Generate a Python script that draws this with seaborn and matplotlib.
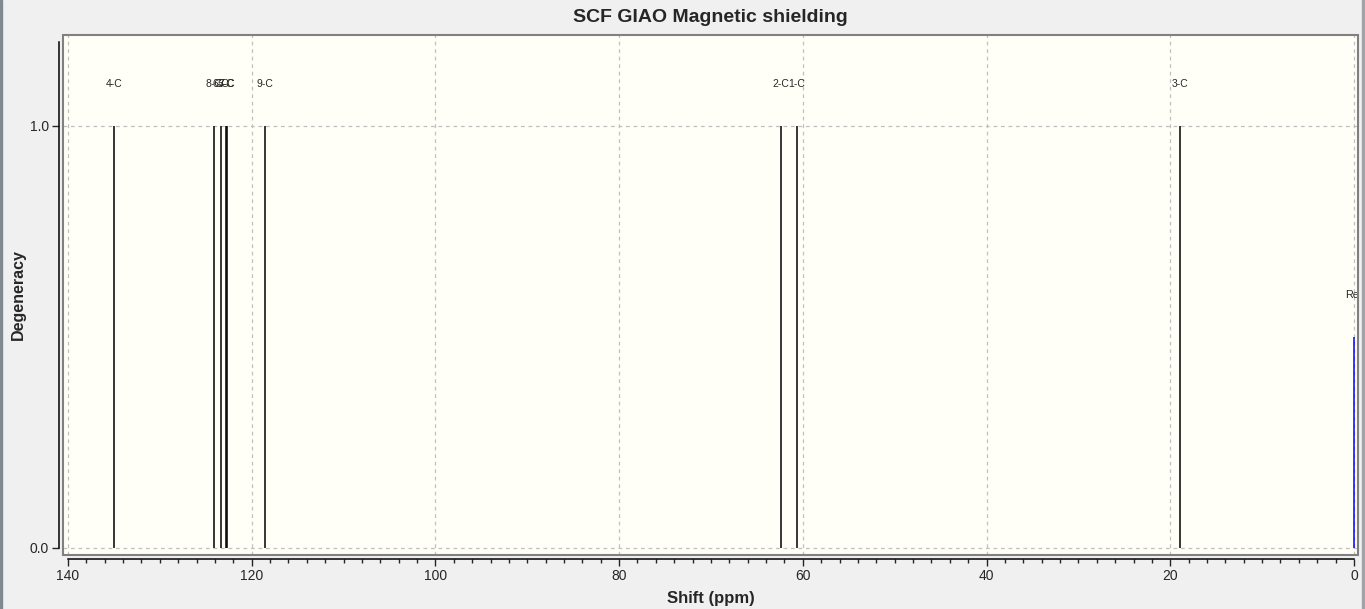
import numpy as np
import pandas as pd
import seaborn as sns
import matplotlib.pyplot as plt
from matplotlib.patches import Rectangle
from matplotlib.ticker import MultipleLocator

# peaks
labels = ["4-C", "8-C", "6-C", "5-C", "7-C", "9-C", "2-C", "1-C", "3-C"]
shifts = [135.0, 124.07, 123.34, 122.77, 122.69, 118.52, 62.4, 60.64, 18.95]
degeneracy = [1.0, 1.0, 1.0, 1.0, 1.0, 1.0, 1.0, 1.0, 1.0]

ref_label = "Reference"
ref_shift = 0.0
ref_height = 0.5

y_ticks = [0.0, 1.0]

peaks = pd.DataFrame({"label": labels, "shift": shifts, "degeneracy": degeneracy})

sns.set_style("white")
plt.rcParams["font.family"] = ["Liberation Sans", "DejaVu Sans"]

fig = plt.figure(figsize=(13.65, 6.09), dpi=100, facecolor="#f0f0f0")
ax = fig.add_axes([63 / 1365, 54 / 609, 1295 / 1365, 520 / 609])
ax.set_facecolor("#fffff7")

ax.vlines(peaks["shift"], 0, peaks["degeneracy"], color="black", linewidth=1.1)
ax.vlines([ref_shift], 0, [ref_height], color="#0000ff", linewidth=1.1)

for _, row in peaks.iterrows():
    ax.text(row["shift"], row["degeneracy"] + 0.1, row["label"], ha="center",
            va="center", fontsize=7.5, clip_on=True)
# the reference label starts just left of its line and is cut by the frame
ax.annotate(ref_label, (ref_shift, ref_height + 0.1), xytext=(-6.5, 0),
            textcoords="offset points", ha="left", va="center", fontsize=7.8,
            annotation_clip=False, clip_on=True)

ax.set_xlim(140.54, -0.44)
ax.set_ylim(-0.0166, 1.2156)

ax.xaxis.set_major_locator(MultipleLocator(20))
ax.xaxis.set_minor_locator(MultipleLocator(2))
ax.set_yticks(y_ticks)
ax.set_yticklabels([f"{v:.1f}" for v in y_ticks])

ax.grid(True, which="major", linestyle=(0, (3, 3)), color="#c0c0c0", linewidth=0.9)
ax.tick_params(axis="x", which="major", length=5, width=1, labelsize=10, pad=2, bottom=True)
ax.tick_params(axis="x", which="minor", length=3, width=1, bottom=True)
ax.tick_params(axis="y", length=5, width=1, labelsize=10, pad=2, left=True)

# offset axis lines, grey frame round the plot area
for side in ["top", "right"]:
    ax.spines[side].set_visible(False)
ax.spines["left"].set_position(("outward", 3))
ax.spines["bottom"].set_position(("outward", 3))
ax.spines["left"].set_bounds(0, 1.2)
ax.spines["bottom"].set_bounds(0, 140)
for side in ["left", "bottom"]:
    ax.spines[side].set_color("black")
    ax.spines[side].set_linewidth(1.1)
ax.add_patch(Rectangle((0, 0), 1, 1, transform=ax.transAxes, fill=False,
                       edgecolor="#808080", linewidth=1.5, clip_on=False, zorder=5))

ax.set_title("SCF GIAO Magnetic shielding", fontsize=14, fontweight="bold", pad=9)
ax.set_xlabel("Shift (ppm)", fontsize=12, fontweight="bold", labelpad=6)
ax.set_ylabel("Degeneracy", fontsize=11.5, fontweight="bold", labelpad=3)

# window borders
fig.patches.append(Rectangle((0, 0), 2 / 1365, 1, transform=fig.transFigure,
                             color="#808890", zorder=0))
fig.patches.append(Rectangle((1362 / 1365, 0), 3 / 1365, 1, transform=fig.transFigure,
                             color="#a0a4a8", zorder=0))

fig.savefig("out.png", dpi=100, facecolor=fig.get_facecolor())
